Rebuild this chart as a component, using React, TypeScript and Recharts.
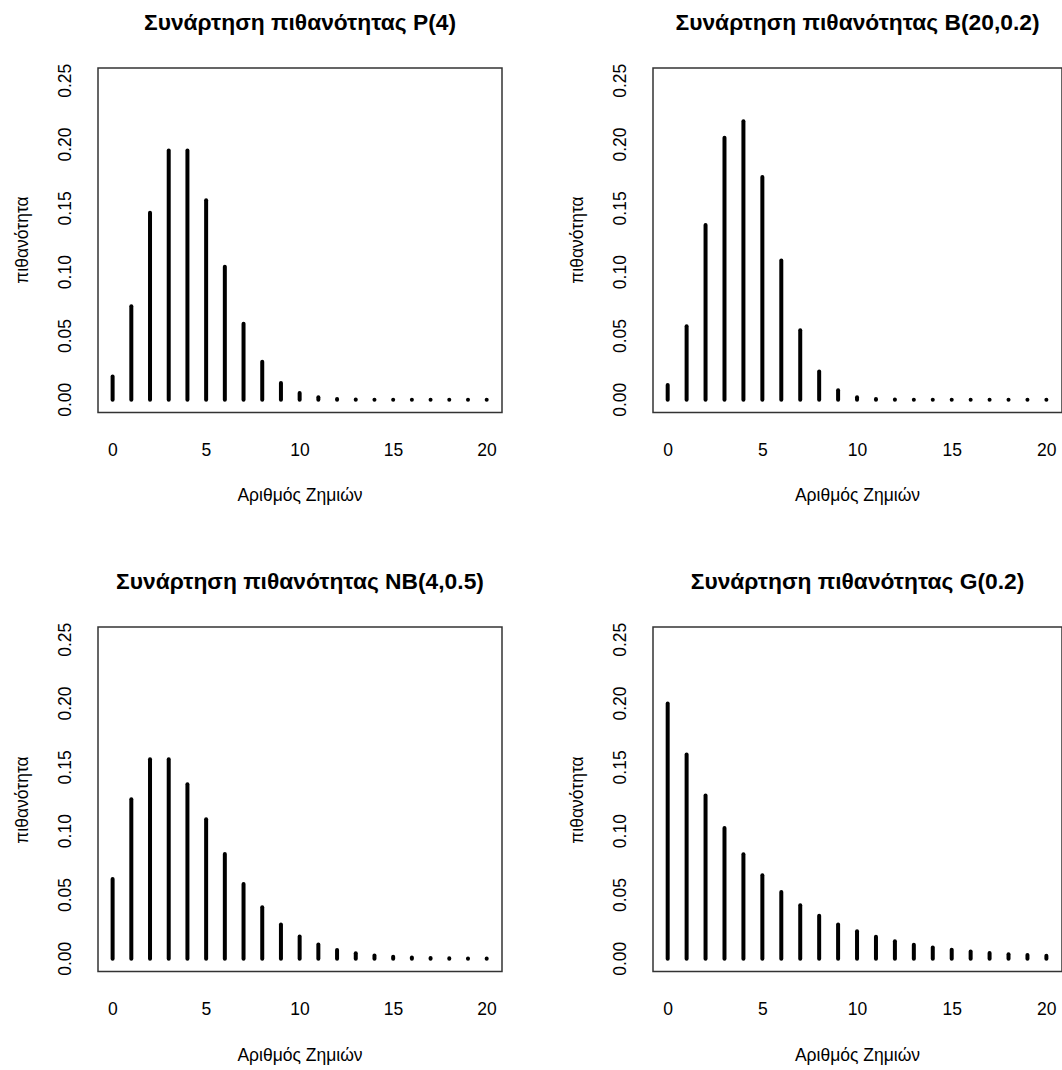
import { ComposedChart, Bar, XAxis, YAxis, ReferenceArea } from 'recharts'

// number of losses k = 0..20
const losses = [0, 1, 2, 3, 4, 5, 6, 7, 8, 9, 10, 11, 12, 13, 14, 15, 16, 17, 18, 19, 20]

const poisson4 = [
  0.0183, 0.0733, 0.1465, 0.1954, 0.1954, 0.1563, 0.1042, 0.0595, 0.0298, 0.0132, 0.0053,
  0.0019, 0.0006, 0.0002, 0.00006, 0.000015, 0.000004, 0.000001, 0.0000002, 0.0000001, 0.0000001,
]
const binom20 = [
  0.0115, 0.0576, 0.1369, 0.2054, 0.2182, 0.1746, 0.1091, 0.0545, 0.0222, 0.0074, 0.002,
  0.0005, 0.0001, 0.00002, 0.000003, 0.0000004, 0.0000001, 0.0000001, 0.0000001, 0.0000001, 0.0000001,
]
const negBin = [
  0.0625, 0.125, 0.1563, 0.1563, 0.1367, 0.1094, 0.082, 0.0586, 0.0403, 0.0269, 0.0175,
  0.0111, 0.0069, 0.0043, 0.0026, 0.0016, 0.0009, 0.0005, 0.0003, 0.0002, 0.0001,
]
const geom = [
  0.2, 0.16, 0.128, 0.1024, 0.0819, 0.0655, 0.0524, 0.0419, 0.0336, 0.0268, 0.0215,
  0.0172, 0.0137, 0.011, 0.0088, 0.007, 0.0056, 0.0045, 0.0036, 0.0029, 0.0023,
]

const xTicks = [0, 5, 10, 15, 20]
const yTicks = [0, 0.05, 0.1, 0.15, 0.2, 0.25]

const titles = [
  'Συνάρτηση πιθανότητας P(4)',
  'Συνάρτηση πιθανότητας B(20,0.2)',
  'Συνάρτηση πιθανότητας NB(4,0.5)',
  'Συνάρτηση πιθανότητας G(0.2)',
]
const xTitle = 'Αριθμός Ζημιών'
const yTitle = 'πιθανότητα'

const FONT = '"Liberation Sans", Arial, sans-serif'
const PAD_L = 98
const PAD_T = 68
const PAD_R = 10
const PAD_B = 100
const BOX_H = 344.5
const Y_AXIS_W = 60
const X_AXIS_H = 30
const LABEL_SIZE = 17.5

const panels = [
  { title: titles[0], values: poisson4, left: 98, top: 67.5, w: 404 },
  { title: titles[1], values: binom20, left: 653, top: 67.5, w: 409 },
  { title: titles[2], values: negBin, left: 98, top: 627.3, w: 404 },
  { title: titles[3], values: geom, left: 653, top: 627.3, w: 409 },
]

function Spike(props: any) {
  const { x, y, width, height } = props
  const cx = x + width / 2
  return (
    <line
      x1={cx}
      x2={cx}
      y1={y}
      y2={y + height}
      stroke="#000"
      strokeWidth={4}
      strokeLinecap="round"
    />
  )
}

function XTick({ x, y, payload }: any) {
  return (
    <text x={x} y={y + 37} textAnchor="middle" dominantBaseline="central" fontSize={LABEL_SIZE} fill="#000" fontFamily={FONT}>
      {payload.value}
    </text>
  )
}

function YTick({ x, y, payload }: any) {
  const tx = x - 33
  return (
    <text
      x={tx}
      y={y}
      transform={`rotate(-90, ${tx}, ${y})`}
      textAnchor="middle"
      dominantBaseline="central"
      fontSize={LABEL_SIZE}
      fill="#000"
      fontFamily={FONT}
    >
      {Number(payload.value).toFixed(2)}
    </text>
  )
}

function Panel({ title, values, left, top, w }: { title: string; values: number[]; left: number; top: number; w: number }) {
  const data = losses.map((k, i) => ({ k, p: values[i] }))
  const ox = left - PAD_L
  const oy = top - PAD_T
  const cx = left + w / 2
  return (
    <>
      <div style={{ position: 'absolute', left: ox, top: oy }}>
        <ComposedChart
          width={PAD_L + w + PAD_R}
          height={PAD_T + BOX_H + PAD_B}
          data={data}
          margin={{ top: PAD_T, left: PAD_L - Y_AXIS_W, right: PAD_R, bottom: PAD_B - X_AXIS_H }}
        >
          <XAxis
            dataKey="k"
            type="number"
            domain={[-0.8, 20.8]}
            ticks={xTicks}
            height={X_AXIS_H}
            axisLine={false}
            tickLine={false}
            tickSize={0}
            tickMargin={0}
            tick={<XTick />}
            interval={0}
            allowDataOverflow
          />
          <YAxis
            type="number"
            domain={[-0.01, 0.26]}
            ticks={yTicks}
            width={Y_AXIS_W}
            axisLine={false}
            tickLine={false}
            tickSize={0}
            tickMargin={0}
            tick={<YTick />}
            interval={0}
            allowDataOverflow
          />
          <ReferenceArea x1={-0.8} x2={20.8} y1={-0.01} y2={0.26} fill="none" stroke="#333" strokeWidth={1.5} fillOpacity={0} />
          <Bar dataKey="p" barSize={4} shape={<Spike />} isAnimationActive={false} />
        </ComposedChart>
      </div>
      <div
        style={{
          position: 'absolute',
          left: cx,
          top: top - 46,
          transform: 'translate(-50%, -50%)',
          whiteSpace: 'nowrap',
          fontFamily: FONT,
          fontWeight: 'bold',
          fontSize: 22.8,
          color: '#000',
        }}
      >
        {title}
      </div>
      <div
        style={{
          position: 'absolute',
          left: cx,
          top: top + BOX_H + 83,
          transform: 'translate(-50%, -50%)',
          whiteSpace: 'nowrap',
          fontFamily: FONT,
          fontSize: LABEL_SIZE,
          color: '#000',
        }}
      >
        {xTitle}
      </div>
      <div
        style={{
          position: 'absolute',
          left: left - 76,
          top: top + BOX_H / 2,
          transform: 'translate(-50%, -50%) rotate(-90deg)',
          whiteSpace: 'nowrap',
          fontFamily: FONT,
          fontSize: LABEL_SIZE,
          color: '#000',
        }}
      >
        {yTitle}
      </div>
    </>
  )
}

export default function App() {
  return (
    <div
      style={{
        position: 'absolute',
        left: 0,
        top: 0,
        width: 1062,
        height: 1070,
        background: '#fff',
        overflow: 'hidden',
      }}
    >
      {panels.map((p) => (
        <Panel key={p.title} {...p} />
      ))}
    </div>
  )
}
